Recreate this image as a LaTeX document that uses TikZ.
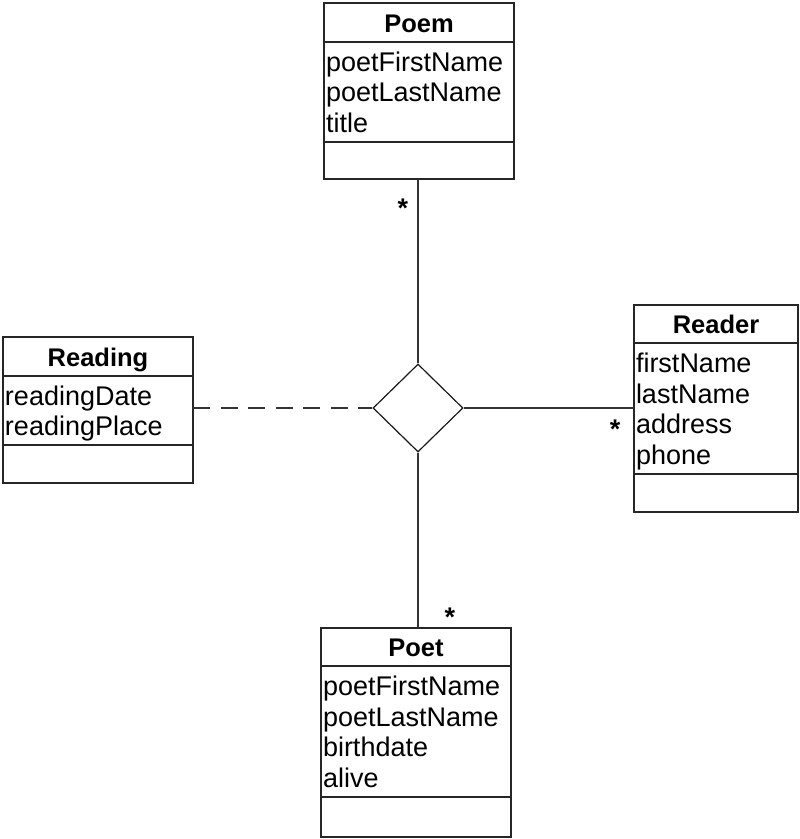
\documentclass[tikz,border=0pt]{standalone}
\usepackage{fontspec}
\setmainfont{Liberation Sans}
\usetikzlibrary{positioning,shapes.geometric}

\tikzset{
  umlpart/.style={draw=black!85, line width=1.2pt, outer sep=0pt, inner sep=0pt, minimum width=#1},
  umlhead/.style={umlpart=#1, font=\fontsize{25.5}{30.5}\selectfont\bfseries,
    text height=19pt, text depth=0pt},
  umlattr/.style={draw=black!85, line width=1.2pt, outer sep=0pt, inner ysep=0pt, inner xsep=2pt,
    text width=#1, align=left, font=\fontsize{27}{30.5}\selectfont,
    execute at begin node={\rule{0pt}{29pt}}, execute at end node=\strut},
  mult/.style={font=\fontsize{27}{30.5}\selectfont\bfseries, inner sep=0pt, anchor=base},
  link/.style={draw=black!80, line width=1.2pt},
}

\begin{document}
\begin{tikzpicture}[x=1pt, y=-1pt]
    \useasboundingbox (0,0) rectangle (800,839);

    % Klasse Poem
    \node[umlhead=190pt, minimum height=39pt] (poem-head) at (419,22.5) {Poem};
    \node[umlattr=186pt, minimum height=100pt, below=0pt of poem-head] (poem-attrs)
        {poetFirstName\\poetLastName\\title};
    \node[umlpart=190pt, minimum height=37pt, below=0pt of poem-attrs] (poem-foot) {};

    % Klasse Reading
    \node[umlhead=190pt, minimum height=39pt] (reading-head) at (98,356.5) {Reading};
    \node[umlattr=186pt, minimum height=69pt, below=0pt of reading-head] (reading-attrs)
        {readingDate\\readingPlace};
    \node[umlpart=190pt, minimum height=38pt, below=0pt of reading-attrs] (reading-foot) {};

    % Klasse Reader
    \node[umlhead=164pt, minimum height=38pt] (reader-head) at (716,324) {Reader};
    \node[umlattr=160pt, minimum height=131pt, below=0pt of reader-head] (reader-attrs)
        {firstName\\lastName\\address\\phone};
    \node[umlpart=164pt, minimum height=38pt, below=0pt of reader-attrs] (reader-foot) {};

    % Klasse Poet
    \node[umlhead=190pt, minimum height=38pt] (poet-head) at (416,647) {Poet};
    \node[umlattr=186pt, minimum height=131pt, below=0pt of poet-head] (poet-attrs)
        {poetFirstName\\poetLastName\\birthdate\\alive};
    \node[umlpart=190pt, minimum height=40pt, below=0pt of poet-attrs] (poet-foot) {};

    % n-aere Assoziation
    \node[draw=black!90, line width=1.2pt, diamond, aspect=1, inner sep=0pt,
        minimum width=90pt, minimum height=88pt] (assoc) at (418,408) {};

    \draw[link] (assoc.north) -- (assoc.north |- poem-foot.south);
    \draw[link] (assoc.south) -- (assoc.south |- poet-head.north);
    \draw[link] (assoc.east) -- (reader-attrs.west |- assoc.east);
    \draw[link, dash pattern=on 17pt off 10.5pt] (reading-attrs.east |- assoc.west) -- (assoc.west);

    % Multiplizitaeten
    \node[mult] (m-poem) at (403,217) {*};
    \node[mult] (m-reader) at (615,438) {*};
    \node[mult] (m-poet) at (450,626) {*};
\end{tikzpicture}
\end{document}
